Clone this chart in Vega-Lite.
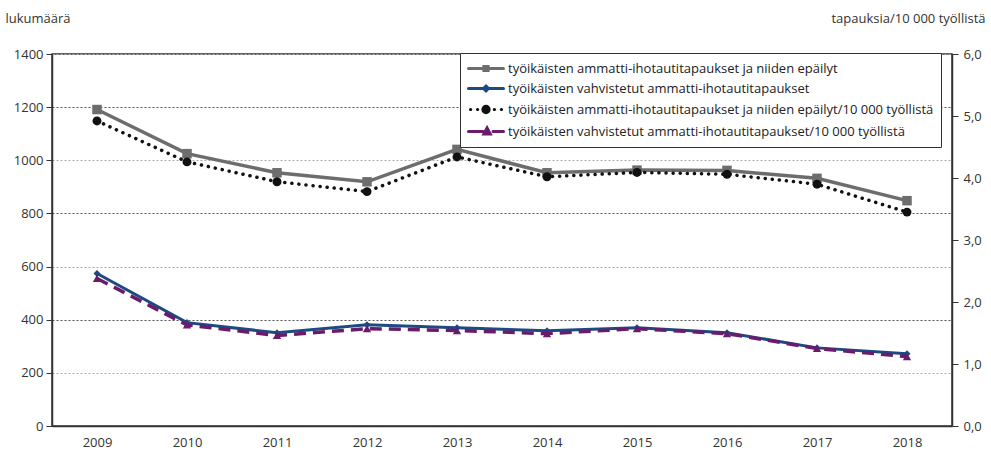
{
  "$schema": "https://vega.github.io/schema/vega-lite/v6.json",
  "width": 900,
  "height": 372,
  "autosize": {"type": "none"},
  "padding": {"left": 52, "top": 54, "right": 39, "bottom": 26},
  "background": "white",
  "config": {
    "font": "Open Sans",
    "view": {"stroke": "#333333", "strokeWidth": 1.5},
    "axis": {"labelFont": "Open Sans", "titleFont": "Open Sans", "labelFontSize": 13, "titleFontSize": 13, "labelColor": "#333333", "titleColor": "#333333", "titleFontWeight": "normal", "domainColor": "#333333", "tickColor": "#333333", "domainWidth": 1.5}
  },
  "datasets": {
    "rows": [
      {"year": "2009", "series": "työikäisten ammatti-ihotautitapaukset ja niiden epäilyt", "axis": "left", "value": 1191},
      {"year": "2010", "series": "työikäisten ammatti-ihotautitapaukset ja niiden epäilyt", "axis": "left", "value": 1025},
      {"year": "2011", "series": "työikäisten ammatti-ihotautitapaukset ja niiden epäilyt", "axis": "left", "value": 953},
      {"year": "2012", "series": "työikäisten ammatti-ihotautitapaukset ja niiden epäilyt", "axis": "left", "value": 919},
      {"year": "2013", "series": "työikäisten ammatti-ihotautitapaukset ja niiden epäilyt", "axis": "left", "value": 1041},
      {"year": "2014", "series": "työikäisten ammatti-ihotautitapaukset ja niiden epäilyt", "axis": "left", "value": 953},
      {"year": "2015", "series": "työikäisten ammatti-ihotautitapaukset ja niiden epäilyt", "axis": "left", "value": 963},
      {"year": "2016", "series": "työikäisten ammatti-ihotautitapaukset ja niiden epäilyt", "axis": "left", "value": 962},
      {"year": "2017", "series": "työikäisten ammatti-ihotautitapaukset ja niiden epäilyt", "axis": "left", "value": 932},
      {"year": "2018", "series": "työikäisten ammatti-ihotautitapaukset ja niiden epäilyt", "axis": "left", "value": 848},
      {"year": "2009", "series": "työikäisten vahvistetut ammatti-ihotautitapaukset", "axis": "left", "value": 574},
      {"year": "2010", "series": "työikäisten vahvistetut ammatti-ihotautitapaukset", "axis": "left", "value": 389},
      {"year": "2011", "series": "työikäisten vahvistetut ammatti-ihotautitapaukset", "axis": "left", "value": 351},
      {"year": "2012", "series": "työikäisten vahvistetut ammatti-ihotautitapaukset", "axis": "left", "value": 381},
      {"year": "2013", "series": "työikäisten vahvistetut ammatti-ihotautitapaukset", "axis": "left", "value": 370},
      {"year": "2014", "series": "työikäisten vahvistetut ammatti-ihotautitapaukset", "axis": "left", "value": 358},
      {"year": "2015", "series": "työikäisten vahvistetut ammatti-ihotautitapaukset", "axis": "left", "value": 370},
      {"year": "2016", "series": "työikäisten vahvistetut ammatti-ihotautitapaukset", "axis": "left", "value": 351},
      {"year": "2017", "series": "työikäisten vahvistetut ammatti-ihotautitapaukset", "axis": "left", "value": 294},
      {"year": "2018", "series": "työikäisten vahvistetut ammatti-ihotautitapaukset", "axis": "left", "value": 272},
      {"year": "2009", "series": "työikäisten ammatti-ihotautitapaukset ja niiden epäilyt/10 000 työllistä", "axis": "right", "value": 4.92},
      {"year": "2010", "series": "työikäisten ammatti-ihotautitapaukset ja niiden epäilyt/10 000 työllistä", "axis": "right", "value": 4.26},
      {"year": "2011", "series": "työikäisten ammatti-ihotautitapaukset ja niiden epäilyt/10 000 työllistä", "axis": "right", "value": 3.94},
      {"year": "2012", "series": "työikäisten ammatti-ihotautitapaukset ja niiden epäilyt/10 000 työllistä", "axis": "right", "value": 3.78},
      {"year": "2013", "series": "työikäisten ammatti-ihotautitapaukset ja niiden epäilyt/10 000 työllistä", "axis": "right", "value": 4.34},
      {"year": "2014", "series": "työikäisten ammatti-ihotautitapaukset ja niiden epäilyt/10 000 työllistä", "axis": "right", "value": 4.02},
      {"year": "2015", "series": "työikäisten ammatti-ihotautitapaukset ja niiden epäilyt/10 000 työllistä", "axis": "right", "value": 4.09},
      {"year": "2016", "series": "työikäisten ammatti-ihotautitapaukset ja niiden epäilyt/10 000 työllistä", "axis": "right", "value": 4.06},
      {"year": "2017", "series": "työikäisten ammatti-ihotautitapaukset ja niiden epäilyt/10 000 työllistä", "axis": "right", "value": 3.90},
      {"year": "2018", "series": "työikäisten ammatti-ihotautitapaukset ja niiden epäilyt/10 000 työllistä", "axis": "right", "value": 3.45},
      {"year": "2009", "series": "työikäisten vahvistetut ammatti-ihotautitapaukset/10 000 työllistä", "axis": "right", "value": 2.38},
      {"year": "2010", "series": "työikäisten vahvistetut ammatti-ihotautitapaukset/10 000 työllistä", "axis": "right", "value": 1.63},
      {"year": "2011", "series": "työikäisten vahvistetut ammatti-ihotautitapaukset/10 000 työllistä", "axis": "right", "value": 1.46},
      {"year": "2012", "series": "työikäisten vahvistetut ammatti-ihotautitapaukset/10 000 työllistä", "axis": "right", "value": 1.57},
      {"year": "2013", "series": "työikäisten vahvistetut ammatti-ihotautitapaukset/10 000 työllistä", "axis": "right", "value": 1.54},
      {"year": "2014", "series": "työikäisten vahvistetut ammatti-ihotautitapaukset/10 000 työllistä", "axis": "right", "value": 1.49},
      {"year": "2015", "series": "työikäisten vahvistetut ammatti-ihotautitapaukset/10 000 työllistä", "axis": "right", "value": 1.57},
      {"year": "2016", "series": "työikäisten vahvistetut ammatti-ihotautitapaukset/10 000 työllistä", "axis": "right", "value": 1.49},
      {"year": "2017", "series": "työikäisten vahvistetut ammatti-ihotautitapaukset/10 000 työllistä", "axis": "right", "value": 1.25},
      {"year": "2018", "series": "työikäisten vahvistetut ammatti-ihotautitapaukset/10 000 työllistä", "axis": "right", "value": 1.12}
    ]
  },
  "data": {"name": "rows"},
  "encoding": {
    "x": {"field": "year", "type": "ordinal", "scale": {"type": "point", "padding": 0.5},
      "axis": {"title": null, "labelAngle": 0, "ticks": false, "labelPadding": 10, "grid": false}},
    "color": {"field": "series", "type": "nominal",
      "scale": {"domain": ["työikäisten ammatti-ihotautitapaukset ja niiden epäilyt", "työikäisten vahvistetut ammatti-ihotautitapaukset", "työikäisten ammatti-ihotautitapaukset ja niiden epäilyt/10 000 työllistä", "työikäisten vahvistetut ammatti-ihotautitapaukset/10 000 työllistä"],
        "range": ["#6d6d6d", "#1d4a80", "#111111", "#6a1b6c"]},
      "legend": {"title": null, "orient": "none", "legendX": 408, "legendY": -1,
        "fillColor": "white", "strokeColor": "#333333", "padding": 7,
        "labelFont": "Open Sans", "labelFontSize": 13, "labelColor": "#222222", "labelLimit": 600,
        "symbolSize": 196, "symbolStrokeWidth": 3, "labelOffset": 24, "rowPadding": 3,
        "encode": {"symbols": {"update": {
          "shape": {"signal": "['M-1,0H4M1.2,-0.3H1.8V0.3H1.2Z', 'M-1,0H4M1.5,-0.35L1.85,0L1.5,0.35L1.15,0Z', 'M-0.72,0H-0.68M0.28,0H0.32M1.05,0A0.45,0.45,0,1,0,1.95,0A0.45,0.45,0,1,0,1.05,0ZM2.68,0H2.72M3.68,0H3.72', 'M-1,0H1.1M2.5,0H4M1.65,-0.5L2.1,0.35H1.2Z'][datum.index]"},
          "fill": {"scale": "color", "field": "value"},
          "stroke": {"scale": "color", "field": "value"},
          "strokeCap": {"value": "round"},
          "opacity": {"value": 1},
          "fillOpacity": {"value": 1},
          "strokeOpacity": {"value": 1}
        }}}}
    }
  },
  "layer": [
    {
      "transform": [{"filter": "datum.axis === 'left'"}],
      "encoding": {
        "y": {"field": "value", "type": "quantitative",
          "scale": {"domain": [0, 1400], "nice": false},
          "axis": {"values": [0, 200, 400, 600, 800, 1000, 1200, 1400], "format": "d", "grid": true, "gridDash": [2, 2],
            "gridColor": {"condition": {"test": "datum.value % 400 === 0", "value": "#555555"}, "value": "#aaaaaa"},
            "tickSize": 6, "labelPadding": 3,
            "title": "lukumäärä", "titleAngle": 0, "titleAlign": "left", "titleBaseline": "middle", "titleX": -47, "titleY": -36}}
      },
      "layer": [
        {"transform": [{"filter": "datum.series === 'työikäisten ammatti-ihotautitapaukset ja niiden epäilyt'"}],
          "mark": {"type": "line", "strokeWidth": 3.5}},
        {"transform": [{"filter": "datum.series === 'työikäisten ammatti-ihotautitapaukset ja niiden epäilyt'"}],
          "mark": {"type": "point", "shape": "square", "filled": true, "size": 90, "opacity": 1}},
        {"transform": [{"filter": "datum.series === 'työikäisten vahvistetut ammatti-ihotautitapaukset'"}],
          "mark": {"type": "line", "strokeWidth": 3}},
        {"transform": [{"filter": "datum.series === 'työikäisten vahvistetut ammatti-ihotautitapaukset'"}],
          "mark": {"type": "point", "shape": "diamond", "filled": true, "size": 50, "opacity": 1}}
      ]
    },
    {
      "transform": [{"filter": "datum.axis === 'right'"}],
      "encoding": {
        "y": {"field": "value", "type": "quantitative",
          "scale": {"domain": [0, 6], "nice": false},
          "axis": {"orient": "right", "values": [0, 1, 2, 3, 4, 5, 6], "grid": false,
            "labelExpr": "replace(format(datum.value, '.1f'), '.', ',')",
            "tickSize": 6, "labelPadding": 5,
            "title": "tapauksia/10 000 työllistä", "titleAngle": 0, "titleAlign": "right", "titleBaseline": "middle", "titleX": 33, "titleY": -36}}
      },
      "layer": [
        {"transform": [{"filter": "datum.series === 'työikäisten ammatti-ihotautitapaukset ja niiden epäilyt/10 000 työllistä'"}],
          "mark": {"type": "line", "strokeWidth": 3.5, "strokeDash": [0.1, 7], "strokeCap": "round"}},
        {"transform": [{"filter": "datum.series === 'työikäisten ammatti-ihotautitapaukset ja niiden epäilyt/10 000 työllistä'"}],
          "mark": {"type": "point", "shape": "circle", "filled": true, "size": 80, "opacity": 1}},
        {"transform": [{"filter": "datum.series === 'työikäisten vahvistetut ammatti-ihotautitapaukset/10 000 työllistä'"}],
          "mark": {"type": "line", "strokeWidth": 3.5, "strokeDash": [12, 7]}},
        {"transform": [{"filter": "datum.series === 'työikäisten vahvistetut ammatti-ihotautitapaukset/10 000 työllistä'"}],
          "mark": {"type": "point", "shape": "triangle-up", "filled": true, "size": 70, "opacity": 1}}
      ]
    }
  ],
  "resolve": {"scale": {"y": "independent"}}
}
